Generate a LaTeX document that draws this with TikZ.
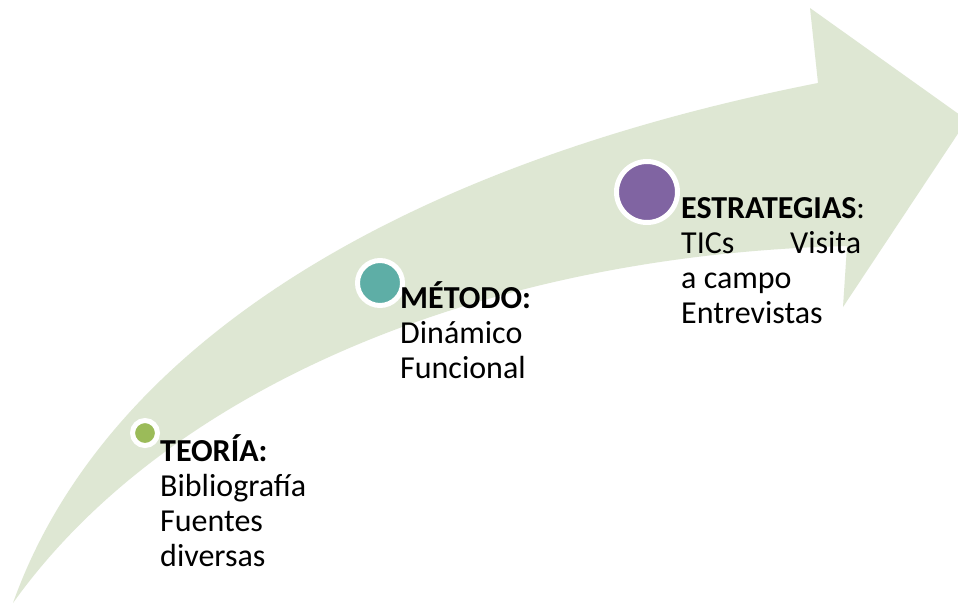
\documentclass[tikz,border=0pt]{standalone}
\usepackage{fontspec}
\setmainfont{Carlito}
\definecolor{band}{RGB}{222,231,211}
\definecolor{dotA}{RGB}{155,187,89}
\definecolor{dotB}{RGB}{94,174,166}
\definecolor{dotC}{RGB}{128,100,162}
\begin{document}
\begin{tikzpicture}[x=1pt,y=-1pt,
  dot/.style={circle, draw=white, line width=5pt, inner sep=0pt},
  lbl/.style={anchor=base west, align=left, inner sep=0pt,
    font=\fontsize{32}{35}\selectfont}]
\clip (0,0) rectangle (958,603);
\fill[white] (0,0) rectangle (958,603);
% curved arrow
\fill[band] (13,603) .. controls (105,345) and (400,165) .. (818,83)
  -- (810,8) -- (967,120) -- (843,307) -- (847,246)
  .. controls (480,255) and (165,390) .. (13,603) -- cycle;
% dots
\node[dot, fill=dotA, minimum size=25pt] (d1) at (145,433) {};
\node[dot, fill=dotB, minimum size=45pt] (d2) at (380,283) {};
\node[dot, fill=dotC, minimum size=61pt] (d3) at (647,192) {};
% labels (anchored at the baseline of the last line)
\node[lbl] (t1) at (160,566) {\textbf{TEORÍA:}\\Bibliografía\\Fuentes\\diversas};
\node[lbl] (t2) at (400,378) {\textbf{MÉTODO:}\\Dinámico\\Funcional};
\node[lbl] (t3) at (681,323) {\textbf{ESTRATEGIAS}:\\\makebox[180pt][l]{TICs\hfill Visita}\\a campo\\Entrevistas};
\end{tikzpicture}
\end{document}
